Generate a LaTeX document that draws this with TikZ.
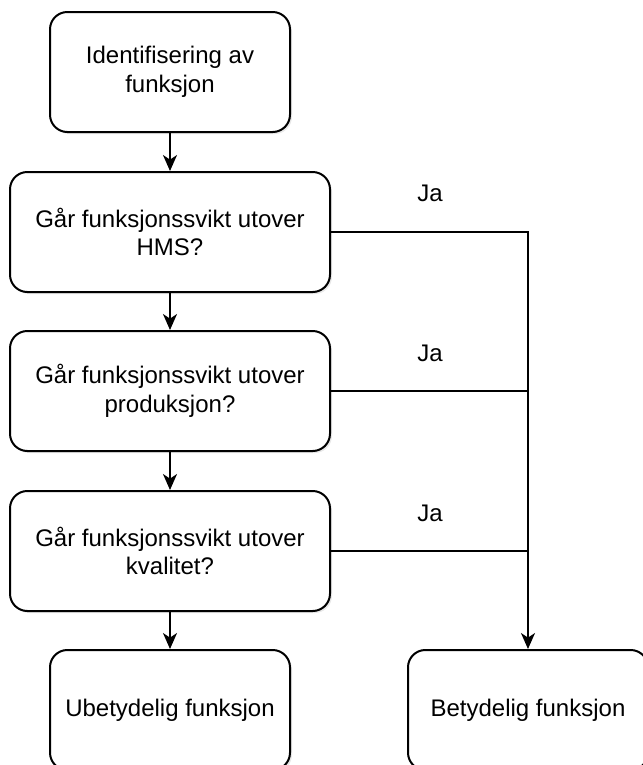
\documentclass[tikz,border=0pt]{standalone}
\usepackage{fontspec}
\setmainfont{Liberation Sans}
\usetikzlibrary{arrows.meta,shadows}

\begin{document}
\begin{tikzpicture}[x=0.75pt,y=-0.75pt,
  boks/.style={rectangle,rounded corners=13pt,draw=black,line width=1.5pt,fill=white,
    minimum height=90pt,align=center,font=\fontsize{18}{21.6}\selectfont,
    drop shadow={shadow xshift=1.5pt,shadow yshift=-1.5pt,opacity=0.18}},
  smal/.style={boks,minimum width=180pt},
  bred/.style={boks,minimum width=240pt},
  pil/.style={line width=1.5pt,-{Stealth[length=12pt,width=10.5pt,inset=3.5pt]}},
  linje/.style={line width=1.5pt},
  ja/.style={font=\fontsize{18}{21.6}\selectfont}]
\useasboundingbox (0,0) rectangle (643,765);
% x, y in px
\node[smal] (ident) at (170,72) {Identifisering av\\funksjon};
\node[bred] (hms) at (170,232) {Går funksjonssvikt utover\\HMS?};
\node[bred] (prod) at (170,391) {Går funksjonssvikt utover\\produksjon?};
\node[bred] (kval) at (170,551) {Går funksjonssvikt utover\\kvalitet?};
\node[smal] (ubet) at (170,710) {Ubetydelig funksjon};
\node[smal] (bet) at (528,710) {Betydelig funksjon};

\draw[pil] (ident) -- (hms);
\draw[pil] (hms) -- (prod);
\draw[pil] (prod) -- (kval);
\draw[pil] (kval) -- (ubet);

\draw[pil,line join=miter] (hms.east) -| (bet.north);
\draw[linje] (prod.east) -- (prod.east -| bet.north);
\draw[linje] (kval.east) -- (kval.east -| bet.north);

\node[ja] (ja1) at (430,193) {Ja};
\node[ja] (ja2) at (430,353) {Ja};
\node[ja] (ja3) at (430,513) {Ja};
\end{tikzpicture}
\end{document}
